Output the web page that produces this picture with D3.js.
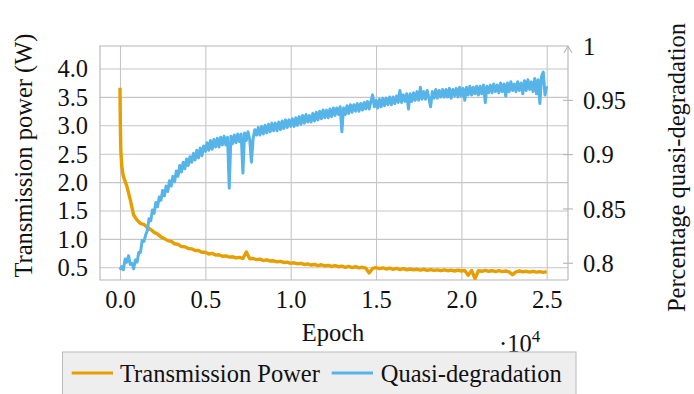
<!DOCTYPE html>
<html><head><meta charset="utf-8">
<script src="https://cdn.jsdelivr.net/npm/d3@7"></script>
<style>
html,body{margin:0;padding:0;background:#fff;}
svg{display:block;}
svg text{font-family:"Liberation Serif","Tinos","Times New Roman","Nimbus Roman","DejaVu Serif","Noto Serif",serif !important;}
</style></head><body>
<svg id="chart" width="694" height="394"></svg>
<script>
const xTicks = [0, 5000, 10000, 15000, 20000, 25000];
const xTickLabels = ["0.0", "0.5", "1.0", "1.5", "2.0", "2.5"];
const leftTicks = [0.5, 1, 1.5, 2, 2.5, 3, 3.5, 4];
const leftTickLabels = ["0.5", "1.0", "1.5", "2.0", "2.5", "3.0", "3.5", "4.0"];
const rightTicks = [0.8, 0.85, 0.9, 0.95, 1];
const rightTickLabels = ["0.8", "0.85", "0.9", "0.95", "1"];
const seriesNames = ["Transmission Power", "Quasi-degradation"];
const xLabel = "Epoch";
const leftLabel = "Transmission power (W)";
const rightLabel = "Percentage quasi-degradation";

// Transmission power: first epochs, then every 200 epochs from 200 to 25000
const powerHeadEpochs = [0, 20, 50, 100, 150];
const powerHeadValues = [3.66, 3.0, 2.55, 2.3, 2.18];
const powerStep = 200;
const powerValues = [
  2.10, 1.93, 1.69, 1.42, 1.33,
  1.27, 1.255, 1.20, 1.165, 1.115,
  1.085, 1.035, 1.005, 0.97, 0.955,
  0.915, 0.905, 0.865, 0.86, 0.83,
  0.825, 0.795, 0.795, 0.765, 0.765,
  0.735, 0.745, 0.715, 0.72, 0.695,
  0.70, 0.68, 0.685, 0.665, 0.675,
  0.655, 0.77, 0.65, 0.655, 0.635,
  0.645, 0.62, 0.63, 0.61, 0.615,
  0.595, 0.605, 0.585, 0.59, 0.57,
  0.58, 0.56, 0.57, 0.55, 0.56,
  0.54, 0.55, 0.53, 0.545, 0.525,
  0.535, 0.515, 0.53, 0.51, 0.52,
  0.50, 0.515, 0.495, 0.51, 0.49,
  0.50, 0.485, 0.40, 0.48, 0.495,
  0.475, 0.49, 0.47, 0.485, 0.465,
  0.48, 0.46, 0.475, 0.455, 0.47,
  0.455, 0.465, 0.45, 0.465, 0.445,
  0.46, 0.445, 0.455, 0.44, 0.455,
  0.44, 0.45, 0.435, 0.45, 0.435,
  0.445, 0.36, 0.445, 0.30, 0.44,
  0.43, 0.445, 0.43, 0.44, 0.425,
  0.44, 0.425, 0.435, 0.42, 0.37,
  0.42, 0.435, 0.42, 0.43, 0.415,
  0.43, 0.415, 0.425, 0.41, 0.425
];

// Quasi-degradation: every 100 epochs from 0 to 25000
const quasiStep = 100;
const quasiValues = [
  0.794,
  0.797, 0.794, 0.804, 0.801, 0.807, 0.799, 0.800, 0.795, 0.803, 0.801,
  0.810, 0.810, 0.821, 0.820, 0.826, 0.830, 0.841, 0.839, 0.849, 0.846,
  0.856, 0.852, 0.861, 0.858, 0.867, 0.862, 0.871, 0.866, 0.876, 0.871,
  0.880, 0.875, 0.885, 0.880, 0.890, 0.884, 0.893, 0.887, 0.896, 0.890,
  0.898, 0.893, 0.901, 0.895, 0.904, 0.897, 0.906, 0.899, 0.908, 0.903,
  0.911, 0.904, 0.913, 0.905, 0.914, 0.907, 0.915, 0.907, 0.916, 0.909,
  0.917, 0.909, 0.916, 0.869, 0.917, 0.910, 0.918, 0.911, 0.919, 0.912,
  0.919, 0.883, 0.920, 0.913, 0.921, 0.914, 0.893, 0.915, 0.923, 0.918,
  0.925, 0.918, 0.926, 0.919, 0.927, 0.920, 0.928, 0.921, 0.929, 0.922,
  0.929, 0.922, 0.930, 0.923, 0.931, 0.924, 0.932, 0.925, 0.932, 0.926,
  0.933, 0.926, 0.934, 0.927, 0.935, 0.928, 0.936, 0.929, 0.937, 0.930,
  0.936, 0.930, 0.938, 0.931, 0.939, 0.932, 0.940, 0.933, 0.941, 0.934,
  0.941, 0.934, 0.942, 0.935, 0.943, 0.936, 0.943, 0.937, 0.944, 0.921,
  0.943, 0.937, 0.945, 0.938, 0.946, 0.939, 0.946, 0.940, 0.947, 0.940,
  0.947, 0.941, 0.948, 0.942, 0.949, 0.942, 0.949, 0.955, 0.944, 0.950,
  0.943, 0.951, 0.944, 0.952, 0.945, 0.952, 0.946, 0.953, 0.946, 0.953,
  0.947, 0.954, 0.948, 0.959, 0.948, 0.955, 0.949, 0.956, 0.942, 0.956,
  0.949, 0.957, 0.950, 0.958, 0.950, 0.962, 0.951, 0.958, 0.951, 0.959,
  0.952, 0.944, 0.958, 0.952, 0.960, 0.952, 0.959, 0.953, 0.960, 0.953,
  0.960, 0.953, 0.961, 0.952, 0.960, 0.954, 0.961, 0.953, 0.962, 0.954,
  0.961, 0.950, 0.962, 0.955, 0.963, 0.955, 0.962, 0.956, 0.963, 0.955,
  0.963, 0.956, 0.964, 0.948, 0.963, 0.957, 0.964, 0.957, 0.965, 0.958,
  0.964, 0.957, 0.966, 0.958, 0.965, 0.954, 0.966, 0.958, 0.967, 0.959,
  0.965, 0.958, 0.967, 0.959, 0.966, 0.956, 0.968, 0.959, 0.969, 0.960,
  0.967, 0.958, 0.970, 0.956, 0.969, 0.947, 0.972, 0.976, 0.955, 0.963
];

const colors = ["#E69F00", "#56B4E9"];
const FONT = "'Liberation Serif','Tinos','Times New Roman','Nimbus Roman','DejaVu Serif','Noto Serif',serif";

const svg = d3.select("#chart");
const L = 100, R = 568, T = 46, B = 280;

const x = d3.scaleLinear().domain([-1172, 26248]).range([L, R]);
const yL = d3.scaleLinear().domain([0.2764, 4.396]).range([B, T]);
const yR = d3.scaleLinear().domain([0.7846, 1.0]).range([B, T]);

const powerData = powerHeadEpochs.map((e, i) => [e, powerHeadValues[i]])
  .concat(powerValues.map((v, i) => [(i + 1) * powerStep, v]));
const quasiData = quasiValues.map((v, i) => [i * quasiStep, v]);

// grid
const gridColor = "#c6c6c6";
const gx = svg.append("g").attr("transform", `translate(0,${B})`)
  .call(d3.axisBottom(x).tickValues(xTicks).tickSize(-(B - T)).tickFormat(""));
gx.select(".domain").remove();
gx.selectAll("line").attr("stroke", gridColor).attr("stroke-width", 1.1);
const gy = svg.append("g").attr("transform", `translate(${L},0)`)
  .call(d3.axisLeft(yL).tickValues(leftTicks).tickSize(-(R - L)).tickFormat(""));
gy.select(".domain").remove();
gy.selectAll("line").attr("stroke", gridColor).attr("stroke-width", 1.1);

// frame
const frameColor = "#b5b5b5";
svg.append("path")
  .attr("d", `M${R},${T}H${L}V${B}H${R}`)
  .attr("fill", "none").attr("stroke", frameColor).attr("stroke-width", 1.1);

// clip
svg.append("clipPath").attr("id", "plotclip").append("rect")
  .attr("x", L).attr("y", T).attr("width", R - L).attr("height", B - T);

const plot = svg.append("g").attr("clip-path", "url(#plotclip)");
plot.append("path").datum(powerData)
  .attr("d", d3.line().x(d => x(d[0])).y(d => yL(d[1])))
  .attr("fill", "none").attr("stroke", colors[0]).attr("stroke-width", 3.4)
  .attr("stroke-linejoin", "round");
plot.append("path").datum(quasiData)
  .attr("d", d3.line().x(d => x(d[0])).y(d => yR(d[1])))
  .attr("fill", "none").attr("stroke", colors[1]).attr("stroke-width", 3)
  .attr("stroke-linejoin", "round");

// axes text
const fs = 24.5;
const ax = svg.append("g").attr("transform", `translate(0,${B})`)
  .call(d3.axisBottom(x).tickValues(xTicks).tickSize(0).tickFormat((d, i) => xTickLabels[i]));
ax.select(".domain").remove();
ax.attr("font-family", FONT);
ax.selectAll("text").attr("y", 28).attr("dy", 0)
  .attr("font-size", fs).attr("font-family", FONT).attr("fill", "#111");

const al = svg.append("g").attr("transform", `translate(${L},0)`)
  .call(d3.axisLeft(yL).tickValues(leftTicks).tickSize(0).tickFormat((d, i) => leftTickLabels[i]));
al.select(".domain").remove();
al.attr("font-family", FONT);
al.selectAll("text").attr("x", -12).attr("dy", "0.34em")
  .attr("font-size", fs).attr("font-family", FONT).attr("fill", "#111");

const ar = svg.append("g").attr("transform", `translate(${R},0)`)
  .call(d3.axisRight(yR).tickValues(rightTicks).tickSize(0).tickFormat((d, i) => rightTickLabels[i]));
ar.select(".domain").remove();
ar.attr("font-family", FONT);
ar.selectAll("text").attr("x", 15).attr("dy", "0.34em")
  .attr("font-size", fs).attr("font-family", FONT).attr("fill", "#111");

// right axis line, ticks and arrow
svg.append("line").attr("x1", R).attr("x2", R).attr("y1", B).attr("y2", T + 1)
  .attr("stroke", frameColor).attr("stroke-width", 1.1);
svg.append("g").selectAll("line").data(rightTicks.filter(d => d < 1)).join("line")
  .attr("x1", R - 5).attr("x2", R + 5)
  .attr("y1", d => yR(d)).attr("y2", d => yR(d))
  .attr("stroke", frameColor).attr("stroke-width", 1.1);
svg.append("path").attr("d", `M${R - 4},${T + 7}L${R},${T}L${R + 4},${T + 7}`)
  .attr("fill", "none").attr("stroke", frameColor).attr("stroke-width", 1.1);

// axis labels
svg.append("text").attr("x", 333).attr("y", 341).attr("text-anchor", "middle")
  .attr("font-family", FONT).attr("font-size", fs).attr("fill", "#111").text(xLabel);
const mult = svg.append("text").attr("x", 499).attr("y", 352)
  .attr("font-family", FONT).attr("font-size", fs).attr("fill", "#111");
mult.append("tspan").text("·10");
mult.append("tspan").attr("dy", -10).attr("font-size", 17).text("4");

svg.append("text").attr("transform", "translate(32,155.5) rotate(-90)")
  .attr("text-anchor", "middle").attr("font-family", FONT).attr("font-size", fs)
  .attr("fill", "#111").text(leftLabel);
svg.append("text").attr("transform", "translate(685,167.5) rotate(-90)")
  .attr("text-anchor", "middle").attr("font-family", FONT).attr("font-size", fs)
  .attr("fill", "#111").text(rightLabel);

// legend
const lg = svg.append("g");
lg.append("rect").attr("x", 62.5).attr("y", 352).attr("width", 513.5).attr("height", 50)
  .attr("fill", "#eeeeee").attr("stroke", "#bcbcbc").attr("stroke-width", 1);
const legendItems = [
  {x1: 71.7, x2: 113, tx: 120},
  {x1: 331.7, x2: 373, tx: 380.7}
];
legendItems.forEach((it, i) => {
  lg.append("line").attr("x1", it.x1).attr("x2", it.x2).attr("y1", 373).attr("y2", 373)
    .attr("stroke", colors[i]).attr("stroke-width", 3);
  lg.append("text").attr("x", it.tx).attr("y", 382).attr("font-family", FONT)
    .attr("font-size", fs).attr("fill", "#111").text(seriesNames[i]);
});
</script>
</body></html>
